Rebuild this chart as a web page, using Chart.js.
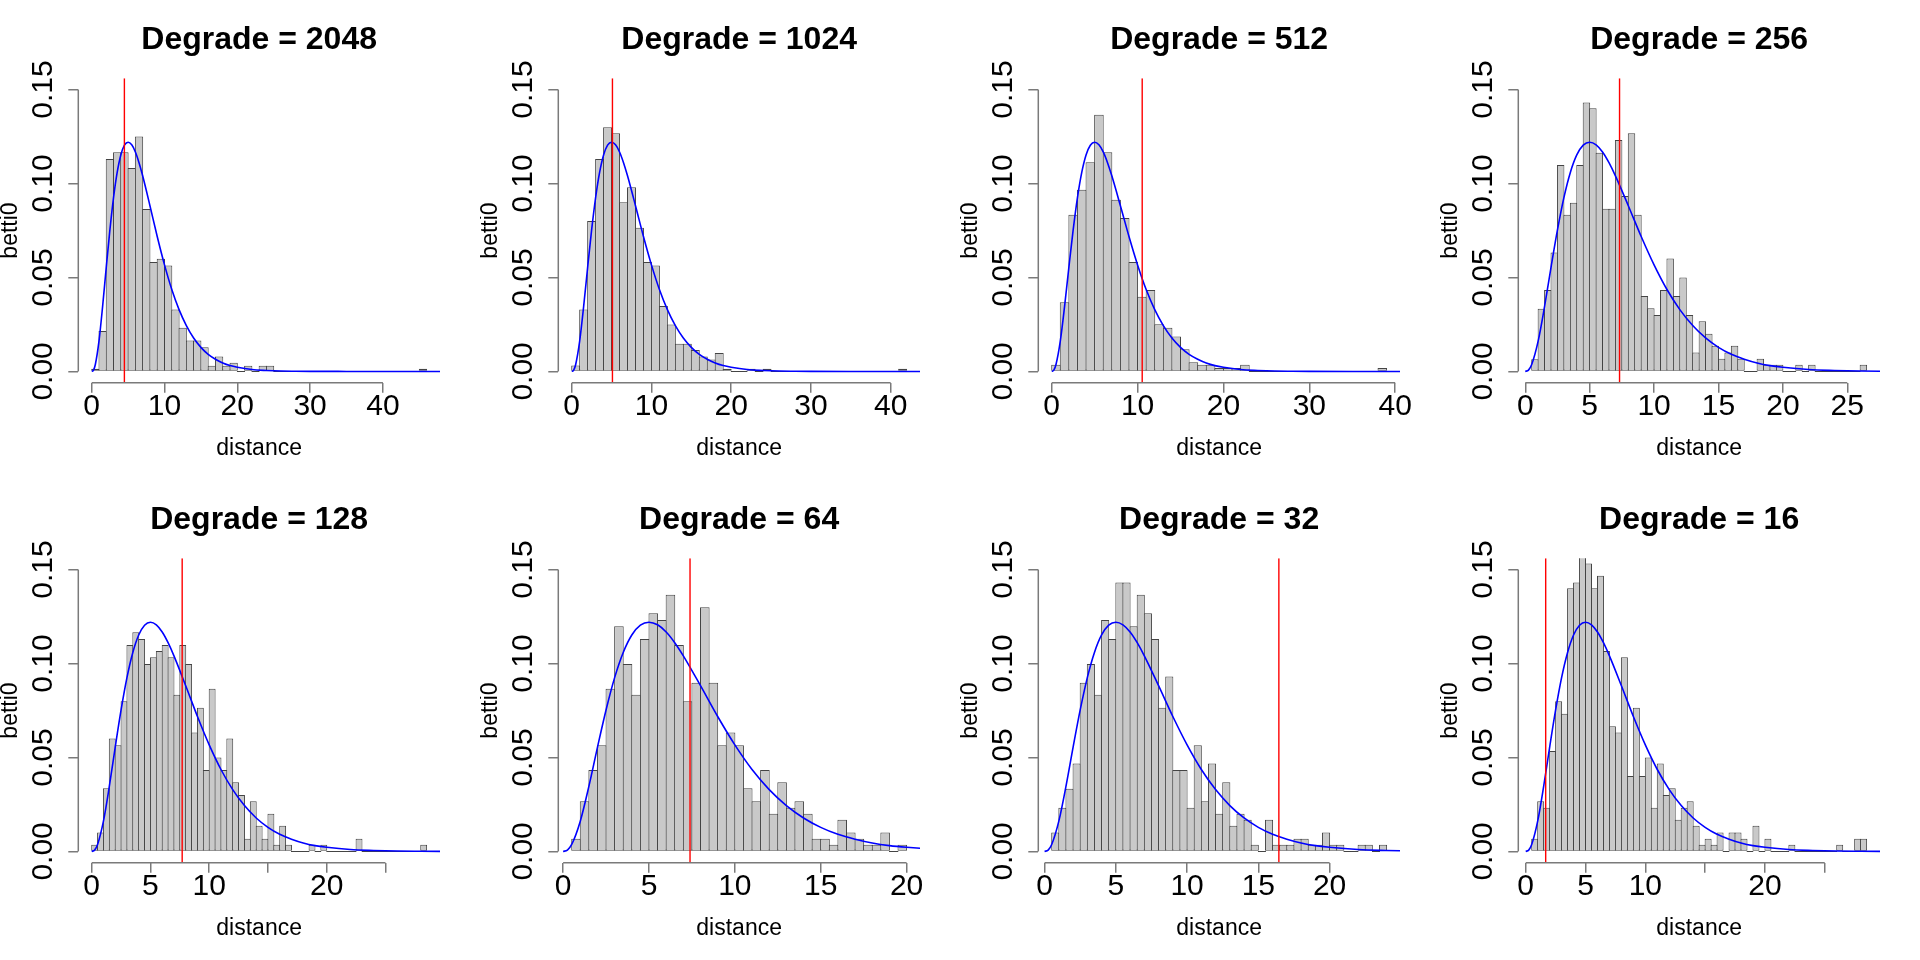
<!DOCTYPE html>
<html><head><meta charset="utf-8">
<script src="https://cdn.jsdelivr.net/npm/chart.js@4.4.1/dist/chart.umd.min.js"></script>
<style>
html,body{margin:0;padding:0;background:#fff;}
#wrap{position:relative;width:1920px;height:960px;background:#fff;overflow:hidden;}
canvas{position:absolute;}
</style></head><body><div id="wrap"></div>
<script>
// ---------- data ----------
const titles = ['Degrade = 2048','Degrade = 1024','Degrade = 512','Degrade = 256',
                'Degrade = 128','Degrade = 64','Degrade = 32','Degrade = 16'];
const binStart = [0, 0, 0, 0.5, 0, 0.5, 0.5, 0.5];
const binWidth = [1, 1, 1, 0.5, 0.5, 0.5, 0.5, 0.5];
const xLimits = [[0,46],[0,42],[0,39],[0.5,26.5],[0,28.5],[0.5,20],[0.5,24],[0.5,28.5]];

const density2048 = [0.0014,0.0215,0.113,0.1167,0.1167,0.1083,0.125,0.0865,0.0582,0.0599,
  0.0564,0.033,0.0232,0.0165,0.0165,0.0129,0.003,0.008,0.003,0.0046,
  0,0.003,0,0.003,0.003,0,0,0,0,0, 0,0,0,0,0,0,0,0,0,0, 0,0,0,0,0,0.0014];
const density1024 = [0.0032,0.033,0.080,0.113,0.130,0.1268,0.090,0.098,0.0764,0.0582,
  0.0564,0.0348,0.025,0.0147,0.0147,0.0114,0.008,0.0064,0.0098,0.0014,
  0,0,0.0014,0,0.0014,0,0,0,0,0, 0,0,0,0,0,0,0,0,0,0, 0,0.0014];
const density512 = [0.0035,0.0368,0.0834,0.0967,0.1113,0.1366,0.1166,0.0914,0.0816,0.0583,
  0.0398,0.0433,0.0251,0.0233,0.0186,0.0118,0.0049,0.0035,0.0035,0.0018,
  0.0018,0.0018,0.0035,0,0,0,0,0,0,0, 0,0,0,0,0,0,0,0,0.0018];
const density256 = [0.0065,0.0334,0.0433,0.0633,0.1099,0.0834,0.0898,0.1099,0.1431,0.14,
  0.1164,0.0866,0.0866,0.1232,0.0933,0.1267,0.0834,0.0401,0.0336,0.03,
  0.0433,0.0601,0.0401,0.05,0.03,0.0101,0.0267,0.02,0.0136,0.0067,
  0.0101,0.0136,0.0067,0,0,0.0067,0.0035,0.0035,0.0035,0,
  0,0.0035,0,0.0035,0,0,0,0,0,0, 0,0.0035];
const density128 = [0.0035,0.0101,0.0336,0.0601,0.0565,0.0799,0.1099,0.1166,0.1131,0.0998,
  0.1034,0.1066,0.1099,0.1034,0.0834,0.1099,0.0998,0.0633,0.0765,0.0433,
  0.0866,0.05,0.0433,0.0601,0.0368,0.03,0.0067,0.0267,0.0136,0.0067,
  0.02,0.0035,0.0136,0.0035,0,0,0,0.0035,0,0.0035,
  0,0,0,0,0,0.0067,0,0,0,0, 0,0,0,0,0,0,0.0035];
const density64 = [0.0067,0.0267,0.0433,0.0565,0.0866,0.1198,0.0998,0.0834,0.1131,0.1267,
  0.1232,0.1366,0.1099,0.0799,0.0898,0.1299,0.0898,0.0565,0.0633,0.0565,
  0.0336,0.0267,0.0433,0.02,0.0368,0.0233,0.0267,0.02,0.0067,0.0067,
  0.0035,0.0168,0.0101,0.0067,0.0035,0.0035,0.0101,0,0.0035];
const density32 = [0.0101,0.0233,0.0334,0.0468,0.0898,0.0998,0.0834,0.1232,0.1131,0.1431,
  0.1431,0.1198,0.1366,0.1267,0.1131,0.0765,0.0931,0.0433,0.0433,0.0233,
  0.0565,0.0267,0.0468,0.02,0.0368,0.0136,0.02,0.0168,0.0035,0,
  0.0168,0.0035,0.0035,0.0035,0.0067,0.0067,0.0035,0.0035,0.0101,0.0035,
  0.0035,0,0,0.0035,0.0035,0,0.0035];
const density16 = [0.0067,0.0267,0.0233,0.0534,0.0799,0.0733,0.14,0.1431,0.16,0.1532,
  0.14,0.1467,0.1066,0.0666,0.0633,0.1034,0.0401,0.0765,0.0401,0.05,
  0.0233,0.0468,0.03,0.0336,0.0168,0.0233,0.0267,0.0136,0.0035,0.0067,
  0.0035,0.0101,0,0.0101,0.0101,0.0067,0,0.0136,0,0.0067,
  0,0,0,0.0035,0,0,0,0,0,0, 0,0.0035,0,0,0.0067,0.0067];
const densities = [density2048,density1024,density512,density256,density128,density64,density32,density16];

const xTicks = [[0,10,20,30,40],[0,10,20,30,40],[0,10,20,30,40],[0,5,10,15,20,25],
                [0,5,10,15,20,25],[0,5,10,15,20],[0,5,10,15,20],[0,5,10,15,20,25]];
const xTickLabels = [['0','10','20','30','40'],['0','10','20','30','40'],['0','10','20','30','40'],
                     ['0','5','10','15','20','25'],['0','5','10','','20',''],['0','5','10','15','20'],
                     ['0','5','10','15','20'],['0','5','10','','20','']];
const yTicks = [0, 0.05, 0.10, 0.15];
const yTickLabels = ['0.00','0.05','0.10','0.15'];
const redLineX = [4.49, 5.11, 10.54, 7.32, 7.70, 7.39, 16.44, 1.67];

// fitted density curve (same in every panel)
const curveX = [0,0.25,0.5,1,1.5,2,2.5,3,3.5,4,4.5,5,5.5,6,6.5,7,8,9,10,11,12,13,14,15,16,17,18,19,20,22,24,26,28,30,35,40,50];
const curveY = [0,0.0007,0.0037,0.0161,0.0346,0.0554,0.0753,0.0925,0.1059,0.1152,0.1204,0.1220,0.1206,0.1168,0.1111,0.1041,
  0.0882,0.0718,0.0567,0.0436,0.0329,0.0244,0.0178,0.0128,0.0091,0.0065,0.0045,0.0031,0.0022,0.0010,0.0005,0.0002,0.0001,0.00004,0,0,0];

// ---------- style / layout ----------
const FONT = "'Liberation Sans', Arial, Helvetica, sans-serif";
const PANEL = 480;
const PLOT_LEFT = 78.3, PLOT_RIGHT = 440, PLOT_TOP = 78.3, PLOT_BOTTOM = 382.7;
const AXIS_COLOR = '#7a7a7a', AXIS_W = 1.5;
Chart.defaults.font.family = FONT;

const rAxisPlugin = {
  id: 'rAxis',
  afterDraw(chart) {
    const ctx = chart.ctx, xs = chart.scales.x, ys = chart.scales.y;
    ctx.save();
    ctx.strokeStyle = AXIS_COLOR; ctx.lineWidth = AXIS_W;
    const xt = xs.ticks, yt = ys.ticks;
    ctx.beginPath();
    ctx.moveTo(xs.getPixelForValue(xt[0].value), xs.top);
    ctx.lineTo(xs.getPixelForValue(xt[xt.length-1].value), xs.top);
    ctx.stroke();
    ctx.beginPath();
    ctx.moveTo(ys.right, ys.getPixelForValue(yt[0].value));
    ctx.lineTo(ys.right, ys.getPixelForValue(yt[yt.length-1].value));
    ctx.stroke();
    ctx.restore();
  }
};

const wrap = document.getElementById('wrap');
for (let idx = 0; idx < 8; idx++) {
  const cv = document.createElement('canvas');
  cv.width = PANEL; cv.height = PANEL;
  cv.style.width = PANEL + 'px'; cv.style.height = PANEL + 'px';
  cv.style.left = (idx % 4) * PANEL + 'px';
  cv.style.top = Math.floor(idx / 4) * PANEL + 'px';
  wrap.appendChild(cv);

  const [a, b] = xLimits[idx];
  const xmin = a - 0.04 * (b - a), xmax = b + 0.04 * (b - a);
  const ymin = -0.04 * 0.15, ymax = 0.15 * 1.04;
  const binPx = binWidth[idx] * (PLOT_RIGHT - PLOT_LEFT) / (xmax - xmin);

  const bars = densities[idx].map((d, i) => ({x: binStart[idx] + (i + 0.5) * binWidth[idx], y: d}));
  const curve = curveX.map((x, i) => ({x: x, y: curveY[i]}));
  const red = [{x: redLineX[idx], y: ymin}, {x: redLineX[idx], y: ymax}];

  new Chart(cv, {
    type: 'bar',
    data: {datasets: [
      {type: 'line', data: red, borderColor: '#ff0000', borderWidth: 1.4, pointRadius: 0, order: 1},
      {type: 'line', data: curve, borderColor: '#0000ff', borderWidth: 1.6, pointRadius: 0,
       cubicInterpolationMode: 'monotone', tension: 0.4, order: 2},
      {type: 'bar', data: bars, backgroundColor: '#c9c9c9', borderColor: '#444444', borderWidth: 1,
       borderSkipped: false, barPercentage: (binPx + 1) / binPx, categoryPercentage: 1,
       inflateAmount: 0, minBarLength: 1, grouped: false, clip: 0, order: 3}
    ]},
    options: {
      responsive: false, animation: false, devicePixelRatio: 1,
      layout: {padding: {left: 0, right: PANEL - PLOT_RIGHT, top: 0, bottom: 0}},
      plugins: {
        legend: {display: false}, tooltip: {enabled: false},
        title: {display: true, text: titles[idx], fullSize: false, color: '#000',
                font: {family: FONT, size: 32, weight: 'bold', lineHeight: 1},
                padding: {top: 24.5, bottom: PLOT_TOP - 32 - 24.5}}
      },
      scales: {
        x: {type: 'linear', min: xmin, max: xmax, offset: false,
            afterBuildTicks: s => { s.ticks = xTicks[idx].map(v => ({value: v})); },
            afterFit: s => { s.height = PANEL - PLOT_BOTTOM; },
            ticks: {autoSkip: false, minRotation: 0, maxRotation: 0, padding: -1, color: '#000',
                    font: {family: FONT, size: 30, lineHeight: 1},
                    callback: (v, i) => xTickLabels[idx][i]},
            grid: {display: true, offset: false, drawOnChartArea: false, drawTicks: true, tickLength: 10,
                   color: AXIS_COLOR, lineWidth: AXIS_W},
            border: {display: false},
            title: {display: true, text: 'distance', color: '#000',
                    font: {family: FONT, size: 23, lineHeight: 1}, padding: {top: 0, bottom: 20.2}}
        },
        y: {type: 'linear', min: ymin, max: ymax,
            afterBuildTicks: s => { s.ticks = yTicks.map(v => ({value: v})); },
            afterFit: s => { s.width = PLOT_LEFT; },
            ticks: {minRotation: 90, maxRotation: 90, crossAlign: 'center', padding: -5, color: '#000',
                    font: {family: FONT, size: 30, lineHeight: 1},
                    callback: (v, i) => yTickLabels[i]},
            grid: {display: true, drawOnChartArea: false, drawTicks: true, tickLength: 10,
                   color: AXIS_COLOR, lineWidth: AXIS_W},
            border: {display: false},
            title: {display: true, text: 'betti0', color: '#000',
                    font: {family: FONT, size: 23, lineHeight: 1}, padding: {top: -1.2, bottom: 0}}
        }
      }
    },
    plugins: [rAxisPlugin]
  });
}
</script></body></html>
